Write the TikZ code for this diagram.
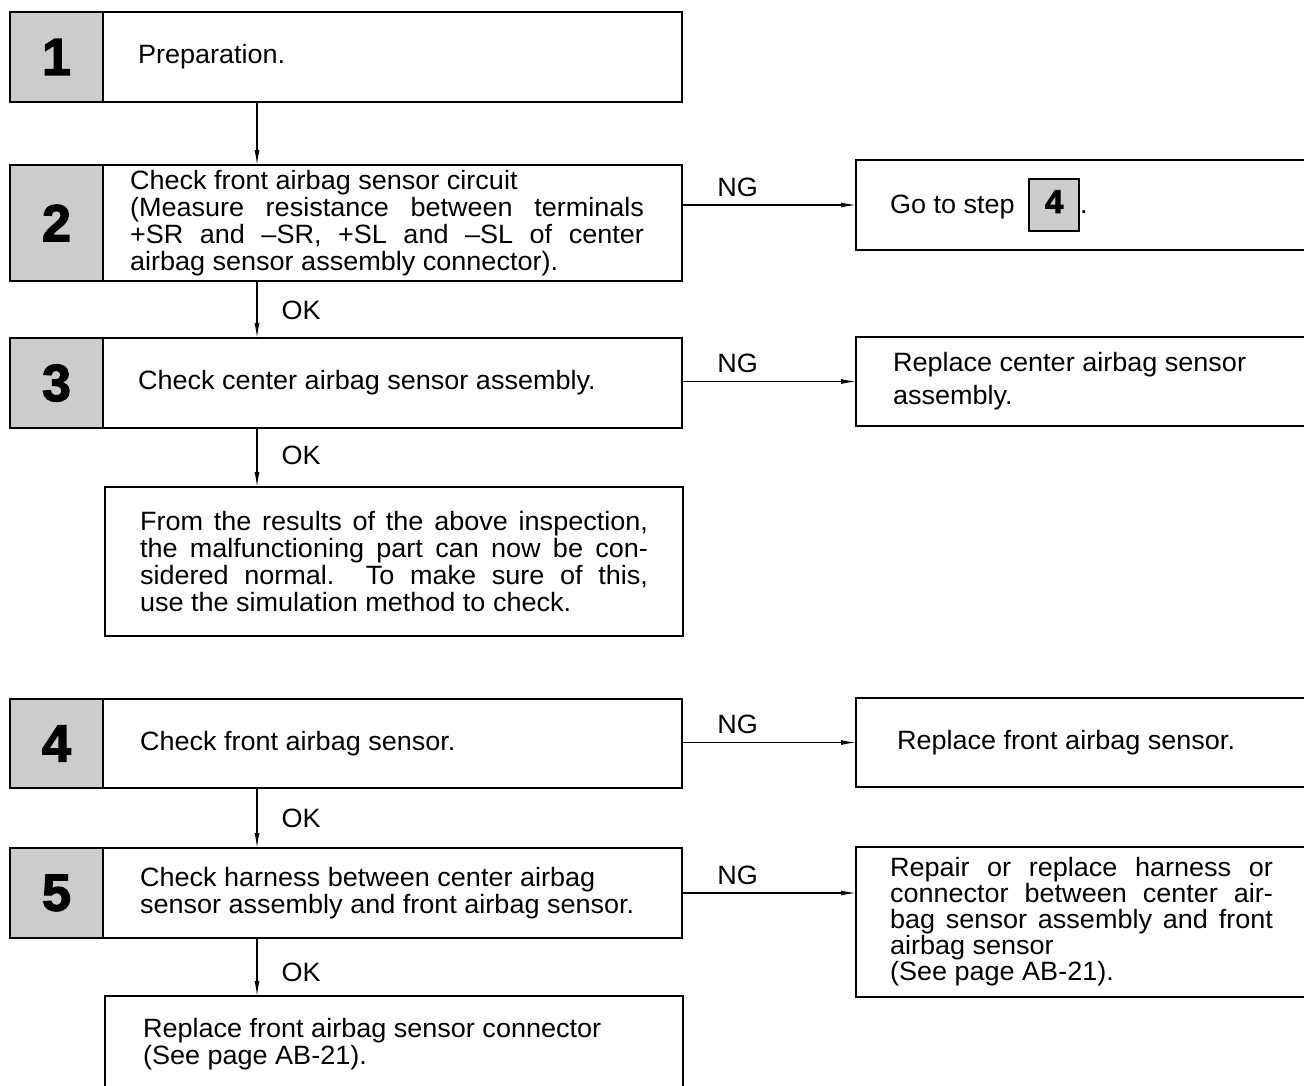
\documentclass[tikz,border=0pt]{standalone}
\usepackage{fontspec}
\setmainfont{Liberation Sans}[FakeStretch=1.02]
\newfontfamily\stepfont{Liberation Sans Bold}[FakeBold=2.5]
\usetikzlibrary{arrows.meta, positioning}

\definecolor{stepgray}{gray}{0.8}

% justified line of a given width
\newcommand{\jline}[2]{\makebox[#1][s]{#2}}
% small grey step box inside running text
\newcommand{\stepref}[1]{{\setlength{\fboxsep}{0pt}\setlength{\fboxrule}{2pt}%
  \fcolorbox{black}{stepgray}{\rule[-17pt]{0pt}{50pt}%
    \makebox[48pt]{\stepfont\fontsize{33}{33}\selectfont #1}}}}

\begin{document}
\begin{tikzpicture}[
  x=1pt, y=-1pt,
  >={Latex[length=15pt, width=5pt]},
  font=\fontsize{26.5}{27}\selectfont,
  box/.style={draw, line width=2pt, outer sep=0pt, anchor=north west,
              align=flush left, inner ysep=3pt},
  cell/.style={draw, line width=2pt, fill=stepgray, outer sep=0pt,
               anchor=north west, minimum width=93pt,
               font=\stepfont\fontsize{52}{52}\selectfont},
  flow/.style={->, line width=1.2pt},
  tag/.style={inner sep=2pt},
]

% ── Frame ────────────────────────────────────────────────────────────────────
\useasboundingbox (0,0) rectangle (1304,1085);
\clip (0,0) rectangle (1304,1085);

% x position of the vertical OK line
\coordinate (spine) at (257,0);

% ── Step 1 ───────────────────────────────────────────────────────────────────
\node[cell, minimum height=90pt] (n1) at (10,12) {1};
\node[box, text width=509pt, inner xsep=35pt, minimum height=90pt]
  (t1) at (n1.north east) {Preparation.};

% ── Step 2 ───────────────────────────────────────────────────────────────────
\node[cell, minimum height=116pt] (n2) at (10,165) {2};
\node[box, text width=525pt, inner xsep=27pt, minimum height=116pt]
  (t2) at (n2.north east)
  {Check front airbag sensor circuit\\
   \jline{514pt}{(Measure resistance between terminals}\\
   \jline{514pt}{+SR and \textendash SR, +SL and \textendash SL of center}\\
   airbag sensor assembly connector).};
\node[box, text width=386pt, inner xsep=34pt, minimum height=90pt]
  (r2) at (856,160) {Go to step\hspace{6pt} \stepref{4}.};

% ── Step 3 ───────────────────────────────────────────────────────────────────
\node[cell, minimum height=90pt] (n3) at (10,338) {3};
\node[box, text width=509pt, inner xsep=35pt, minimum height=90pt]
  (t3) at (n3.north east) {Check center airbag sensor assembly.};
\node[box, text width=380pt, inner xsep=37pt, minimum height=89pt]
  (r3) at (856,337) {Replace center airbag sensor\\[6pt] assembly.};

% result after step 3
\node[box, text width=508pt, inner xsep=35pt, minimum height=149pt]
  (f3) at (105,487)
  {\jline{508pt}{From the results of the above inspection,}\\
   \jline{508pt}{the malfunctioning part can now be con-}\\
   \jline{508pt}{sidered normal.\ \ To make sure of this,}\\
   use the simulation method to check.};

% ── Step 4 ───────────────────────────────────────────────────────────────────
\node[cell, minimum height=89pt] (n4) at (10,699) {4};
\node[box, text width=505pt, inner xsep=37pt, minimum height=89pt]
  (t4) at (n4.north east) {Check front airbag sensor.};
\node[box, text width=372pt, inner xsep=41pt, minimum height=89pt]
  (r4) at (856,698) {Replace front airbag sensor.};

% ── Step 5 ───────────────────────────────────────────────────────────────────
\node[cell, minimum height=90pt] (n5) at (10,848) {5};
\node[box, text width=505pt, inner xsep=37pt, minimum height=90pt]
  (t5) at (n5.north east)
  {Check harness between center airbag\\
   sensor assembly and front airbag sensor.};
\node[box, text width=386pt, inner xsep=34pt, minimum height=150pt,
      font=\fontsize{26.5}{26}\selectfont]
  (r5) at (856,847)
  {\jline{383pt}{Repair or replace harness or}\\
   \jline{383pt}{connector between center air-}\\
   \jline{383pt}{bag sensor assembly and front}\\
   airbag sensor\\
   (See page AB-21).};

% result after step 5
\node[box, text width=502pt, inner xsep=38pt, minimum height=96pt]
  (f5) at (105,996)
  {Replace front airbag sensor connector\\ (See page AB-21).};

% ── OK connectors ────────────────────────────────────────────────────────────
\draw[flow] (t1.south -| spine) -- (t2.north -| spine);
\draw[flow] (t2.south -| spine) --
  node[tag, right=22pt, pos=0.52] {OK} (t3.north -| spine);
\draw[flow] (t3.south -| spine) --
  node[tag, right=22pt, pos=0.47] {OK} (f3.north -| spine);
\draw[flow] (t4.south -| spine) --
  node[tag, right=22pt, pos=0.5] {OK} (t5.north -| spine);
\draw[flow] (t5.south -| spine) --
  node[tag, right=22pt, pos=0.6] {OK} (f5.north -| spine);

% ── NG connectors ────────────────────────────────────────────────────────────
\draw[flow] (t2.east |- r2.west) --
  node[tag, above=6pt, pos=0.32] {NG} (r2.west);
\draw[flow] (t3.east |- r3.west) --
  node[tag, above=6pt, pos=0.32] {NG} (r3.west);
\draw[flow] (t4.east |- r4.west) --
  node[tag, above=6pt, pos=0.32] {NG} (r4.west);
\draw[flow] (t5.east) --
  node[tag, above=6pt, pos=0.32] {NG} (t5.east -| r5.west);

\end{tikzpicture}
\end{document}
